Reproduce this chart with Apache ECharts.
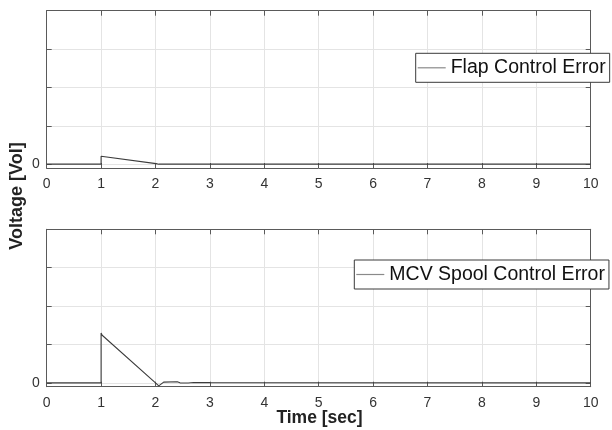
<!DOCTYPE html>
<html>
<head>
<meta charset="utf-8">
<script src="https://cdn.jsdelivr.net/npm/echarts@6/dist/echarts.min.js"></script>
<style>
  html, body { margin: 0; padding: 0; background: #fff; }
  #chart { width: 612px; height: 430px; }
</style>
</head>
<body>
<div id="chart"></div>
<script>
// Flap control error response (upper panel)
const flapTime  = [0, 1, 1, 2.01, 2.06, 10];
const flapError = [0, 0, 0.205, 0.015, 0, 0];

// MCV spool control error response (lower panel)
const spoolTime  = [0, 1, 1, 1.02, 2.0, 2.06, 2.15, 2.4, 2.45, 2.6, 2.7, 3, 10];
const spoolError = [0, 0, 1.3, 1.24, 0, -0.08, 0.02, 0.03, 0, -0.005, 0.01, 0.005, 0];

const seriesNames = ['Flap Control Error', 'MCV Spool Control Error'];
const xTicks = { min: 0, max: 10, step: 1 };
const yRange = { min: -0.1, max: 4 };
const yLabelShown = [0];

const FONT = '"Liberation Sans", Arial, Helvetica, sans-serif';
const AXIS_COLOR = '#5a5a5a';
const GRID_COLOR = '#e4e4e4';
const TEXT_COLOR = '#333';

const zip = (xs, ys) => xs.map((x, i) => [x, ys[i]]);

const grids = [
  { left: 46.7, right: 21.3, top: 10.7, height: 157.3 },
  { left: 46.7, right: 21.3, top: 229.3, height: 157.4 }
];

function xAxes(gi) {
  return [
    {
      gridIndex: gi, type: 'value', position: 'bottom',
      min: xTicks.min, max: xTicks.max, interval: xTicks.step,
      axisLine: { onZero: false, lineStyle: { color: AXIS_COLOR, width: 1 } },
      axisTick: { inside: true, length: 5, lineStyle: { color: AXIS_COLOR } },
      axisLabel: { fontFamily: FONT, fontSize: 14, color: TEXT_COLOR, margin: 9 },
      splitLine: { show: true, lineStyle: { color: GRID_COLOR, width: 1 } }
    },
    {
      gridIndex: gi, type: 'value', position: 'top',
      min: xTicks.min, max: xTicks.max, interval: xTicks.step,
      axisLine: { onZero: false, lineStyle: { color: AXIS_COLOR, width: 1 } },
      axisTick: { inside: true, length: 5, lineStyle: { color: AXIS_COLOR } },
      axisLabel: { show: false },
      splitLine: { show: false }
    }
  ];
}

function yAxes(gi) {
  return [
    {
      gridIndex: gi, type: 'value', position: 'left',
      min: yRange.min, max: yRange.max, splitNumber: 4,
      axisLine: { show: true, onZero: false, lineStyle: { color: AXIS_COLOR, width: 1 } },
      axisTick: { show: true, inside: true, length: 5, lineStyle: { color: AXIS_COLOR } },
      axisLabel: {
        fontFamily: FONT, fontSize: 14, color: TEXT_COLOR, margin: 7,
        formatter: v => (yLabelShown.indexOf(Math.round(v * 1000) / 1000) >= 0 ? String(v) : '')
      },
      splitLine: { show: true, lineStyle: { color: GRID_COLOR, width: 1 } }
    },
    {
      gridIndex: gi, type: 'value', position: 'right',
      min: yRange.min, max: yRange.max, splitNumber: 4,
      axisLine: { show: true, onZero: false, lineStyle: { color: AXIS_COLOR, width: 1 } },
      axisTick: { show: true, inside: true, length: 5, lineStyle: { color: AXIS_COLOR } },
      axisLabel: { show: false },
      splitLine: { show: false }
    }
  ];
}

function legendFor(name, left, top) {
  return {
    data: [name],
    left: left, top: top,
    orient: 'vertical',
    padding: [4, 4, 4, 2],
    icon: 'rect',
    itemWidth: 28, itemHeight: 1.2,
    backgroundColor: '#fff',
    borderColor: '#3a3a3a', borderWidth: 1, borderRadius: 0,
    selectedMode: false,
    itemStyle: { color: '#8a8a8a', borderWidth: 0 },
    textStyle: { fontFamily: FONT, fontSize: 19.5, color: '#111', lineHeight: 21 }
  };
}

const lineSeries = (name, data, gi) => ({
  name: name, type: 'line',
  xAxisIndex: gi * 2, yAxisIndex: gi * 2,
  data: data,
  showSymbol: false, symbol: 'none',
  animation: false,
  color: '#3c3c3c',
  lineStyle: { color: '#3c3c3c', width: 1.1 },
  z: 3
});

const chart = echarts.init(document.getElementById('chart'), null, { renderer: 'canvas' });
chart.setOption({
  backgroundColor: '#fff',
  animation: false,
  grid: grids,
  xAxis: [...xAxes(0), ...xAxes(1)],
  yAxis: [...yAxes(0), ...yAxes(1)],
  legend: [
    legendFor(seriesNames[0], 415.7, 53.3),
    legendFor(seriesNames[1], 354.3, 260)
  ],
  series: [
    lineSeries(seriesNames[0], zip(flapTime, flapError), 0),
    lineSeries(seriesNames[1], zip(spoolTime, spoolError), 1)
  ],
  graphic: [
    {
      type: 'text', x: 17, y: 196, rotation: Math.PI / 2,
      style: {
        text: 'Voltage [Vol]', fontFamily: FONT, fontSize: 18, fontWeight: 'bold',
        fill: '#222', align: 'center', verticalAlign: 'middle'
      }
    },
    {
      type: 'text', x: 319.5, y: 418,
      style: {
        text: 'Time [sec]', fontFamily: FONT, fontSize: 17.5, fontWeight: 'bold',
        fill: '#222', align: 'center', verticalAlign: 'middle'
      }
    }
  ]
});
</script>
</body>
</html>
